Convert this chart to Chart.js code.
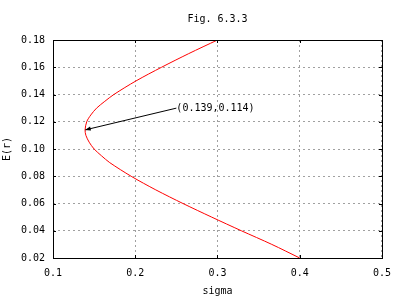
<!DOCTYPE html>
<html>
<head>
<meta charset="utf-8">
<script src="https://cdn.jsdelivr.net/npm/chart.js@4/dist/chart.umd.min.js"></script>
<style>
  html, body { margin: 0; padding: 0; background: #fff; }
</style>
</head>
<body>
<canvas id="chart" width="400" height="300"></canvas>
<script>
// Frontier: sigma (x) vs E(r) (y), top branch down to bottom branch
const sigma = [0.300, 0.265, 0.232, 0.201, 0.174, 0.163, 0.153, 0.146, 0.141, 0.139, 0.140, 0.144, 0.150, 0.159, 0.169, 0.195, 0.225, 0.258, 0.293, 0.329, 0.366, 0.400];
const er    = [0.180, 0.170, 0.160, 0.150, 0.140, 0.135, 0.130, 0.125, 0.120, 0.114, 0.110, 0.105, 0.100, 0.095, 0.090, 0.080, 0.070, 0.060, 0.050, 0.040, 0.030, 0.020];

const xTicks = [0.1, 0.2, 0.3, 0.4, 0.5];
const yTicks = [0.02, 0.04, 0.06, 0.08, 0.10, 0.12, 0.14, 0.16, 0.18];

// Annotation arrow: from label point to the minimum variance point
const arrowFrom = [0.25, 0.13];
const arrowTo = [0.139, 0.114];
const arrowLabel = '(0.139,0.114)';

const FONT = 'DejaVu Sans Mono';
const monoFont = { family: FONT, size: 10 };

const frontier = sigma.map((s, i) => ({ x: s, y: er[i] }));

// border box + inward tick marks on all four sides (gnuplot style)
const framePlugin = {
  id: 'frame',
  afterDatasetsDraw(chart) {
    const { ctx, chartArea: a, scales } = chart;
    ctx.save();
    ctx.strokeStyle = '#000';
    ctx.lineWidth = 1;
    ctx.beginPath();
    xTicks.forEach(v => {
      const px = Math.round(scales.x.getPixelForValue(v)) + 0.5;
      ctx.moveTo(px, a.bottom); ctx.lineTo(px, a.bottom - 3);
      ctx.moveTo(px, a.top); ctx.lineTo(px, a.top + 3);
    });
    yTicks.forEach(v => {
      const py = Math.round(scales.y.getPixelForValue(v)) + 0.5;
      ctx.moveTo(a.left, py); ctx.lineTo(a.left + 3, py);
      ctx.moveTo(a.right, py); ctx.lineTo(a.right - 3, py);
    });
    ctx.stroke();
    ctx.strokeRect(Math.round(a.left) + 0.5, Math.round(a.top) + 0.5,
                   Math.round(a.right - a.left), Math.round(a.bottom - a.top));

    // arrow head + label
    const x = scales.x, y = scales.y;
    const x0 = x.getPixelForValue(arrowFrom[0]), y0 = y.getPixelForValue(arrowFrom[1]);
    const x1 = x.getPixelForValue(arrowTo[0]), y1 = y.getPixelForValue(arrowTo[1]);
    const ang = Math.atan2(y1 - y0, x1 - x0);
    const len = 6, spread = 0.35;
    ctx.fillStyle = '#000';
    ctx.beginPath();
    ctx.moveTo(x1, y1);
    ctx.lineTo(x1 - len * Math.cos(ang - spread), y1 - len * Math.sin(ang - spread));
    ctx.lineTo(x1 - len * Math.cos(ang + spread), y1 - len * Math.sin(ang + spread));
    ctx.closePath();
    ctx.fill();

    ctx.font = '10px "' + FONT + '"';
    ctx.textAlign = 'left';
    ctx.textBaseline = 'middle';
    ctx.fillText(arrowLabel, x0, y0);
    ctx.restore();
  }
};

const grid = {
  color: '#a0a0a0',
  lineWidth: 1,
  drawTicks: false
};

new Chart(document.getElementById('chart'), {
  type: 'scatter',
  data: {
    datasets: [
      {
        data: frontier,
        showLine: true,
        borderColor: '#ff0000',
        borderWidth: 1,
        pointRadius: 0,
        tension: 0.3
      },
      {
        data: [{ x: arrowFrom[0], y: arrowFrom[1] }, { x: arrowTo[0], y: arrowTo[1] }],
        showLine: true,
        borderColor: '#000',
        borderWidth: 1,
        pointRadius: 0
      }
    ]
  },
  options: {
    responsive: false,
    animation: false,
    events: [],
    layout: { padding: { left: 0, right: 18, top: 0, bottom: 0 } },
    plugins: {
      legend: { display: false },
      tooltip: { enabled: false },
      title: {
        display: true,
        fullSize: false,
        text: 'Fig. 6.3.3',
        color: '#000',
        font: { family: FONT, size: 10, weight: 'normal' },
        padding: { top: 13, bottom: 15 }
      }
    },
    scales: {
      x: {
        type: 'linear',
        min: 0.1,
        max: 0.5,
        afterFit: s => { s.height = 42; },
        afterBuildTicks: s => { s.ticks = xTicks.map(v => ({ value: v })); },
        grid: grid,
        border: { display: false, dash: [2, 3] },
        ticks: {
          color: '#000',
          font: monoFont,
          padding: 9,
          maxRotation: 0,
          callback: v => v.toFixed(1)
        },
        title: {
          display: true,
          text: 'sigma',
          color: '#000',
          font: monoFont,
          padding: { top: 0, bottom: 3 }
        }
      },
      y: {
        type: 'linear',
        min: 0.02,
        max: 0.18,
        afterFit: s => { s.width = 53; },
        afterBuildTicks: s => { s.ticks = yTicks.map(v => ({ value: v })); },
        grid: grid,
        border: { display: false, dash: [2, 3] },
        ticks: {
          color: '#000',
          font: monoFont,
          padding: 8,
          callback: v => v.toFixed(2)
        },
        title: {
          display: true,
          text: 'E(r)',
          color: '#000',
          font: monoFont,
          padding: { top: 1, bottom: 0 }
        }
      }
    }
  },
  plugins: [framePlugin]
});
</script>
</body>
</html>
